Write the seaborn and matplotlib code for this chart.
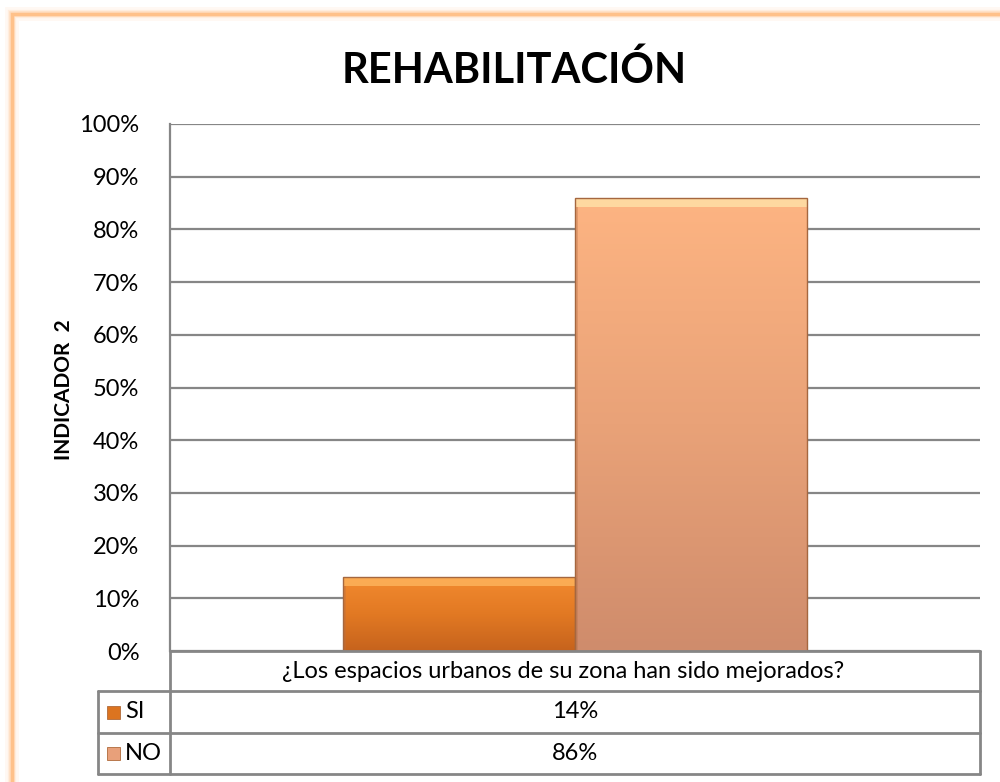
import matplotlib
matplotlib.use("Agg")
import matplotlib.pyplot as plt
from matplotlib.colors import LinearSegmentedColormap
from matplotlib.lines import Line2D
from matplotlib.patches import Rectangle
from matplotlib.ticker import PercentFormatter
import numpy as np
import pandas as pd
import seaborn as sns

# data
pregunta = "¿Los espacios urbanos de su zona han sido mejorados?"
respuestas = ["SI", "NO"]
valores = [0.14, 0.86]
titulo = "REHABILITACIÓN"
eje_y = "INDICADOR  2"

sns.set_style("white")
plt.rcParams['font.family'] = ['Lato', 'DejaVu Sans']
plt.rcParams['text.color'] = 'black'

W, H = 1000, 782
fig = plt.figure(figsize=(W / 100, H / 100), dpi=100)
fig.patch.set_facecolor("white")

def fx(x):
    return x / W

def fy(y):
    return 1 - y / H

ax = fig.add_axes([fx(170), fy(651), fx(980) - fx(170), fy(124) - fy(651)])

df = pd.DataFrame({"pregunta": [pregunta] * len(respuestas),
                   "respuesta": respuestas,
                   "valor": valores})

sns.barplot(data=df, x="pregunta", y="valor", hue="respuesta",
            palette=["#EE8429", "#F9AC7E"], width=0.572, ax=ax,
            legend=False, zorder=3)

# gradient fills on the bars, with a light bevel strip on top
grads = [["#C6631D", "#E27923", "#F28A2F"],
         ["#CF8C6C", "#E9A278", "#FDB482"]]
tops = ["#FDB25A", "#FFDFA6"]
px = 1 / 527  # one pixel in data units
for p, cols, tc in zip(ax.patches, grads, tops):
    cmap = LinearSegmentedColormap.from_list("g", cols)
    x0, y0 = p.get_x(), p.get_y()
    w, h = p.get_width(), p.get_height()
    g = np.linspace(0, 1, 200).reshape(-1, 1)
    im = ax.imshow(g, extent=[x0, x0 + w, y0, y0 + h], origin="lower",
                   aspect="auto", cmap=cmap, zorder=3.5, vmin=0, vmax=1)
    im.set_clip_path(p)
    ax.add_patch(Rectangle((x0, y0 + h - 9 * px), w, 9 * px, facecolor=tc,
                           edgecolor="none", alpha=0.85, zorder=3.6))
    ax.add_patch(Rectangle((x0, y0), w * 0.012, h - 9 * px, facecolor="#B87048",
                           edgecolor="none", alpha=0.35, zorder=3.6))
    p.set_edgecolor("#A5673F")
    p.set_linewidth(1.0)
    p.set_zorder(3.7)
    p.set_facecolor("none")

ax.set_xlim(-0.5, 0.5)
ax.set_ylim(0, 1)
ax.set_yticks(np.arange(0, 1.01, 0.1))
ax.yaxis.set_major_formatter(PercentFormatter(1.0, decimals=0))
ax.tick_params(axis="y", labelsize=17, pad=22, length=0, colors="black")
ax.set_xticks([])
ax.set_xlabel("")
ax.set_ylabel("")
ax.grid(axis="y", color="#868686", linewidth=1.6, zorder=0)
ax.set_axisbelow(True)
for s in ["top", "right", "bottom"]:
    ax.spines[s].set_visible(False)
ax.spines["left"].set_color("#868686")
ax.spines["left"].set_linewidth(1.6)
ax.spines["left"].set_bounds(0, 1)

fig.text(fx(514), fy(70), titulo, ha="center", va="center",
         fontsize=30, fontweight="bold")
fig.text(fx(64), fy(390), eje_y, ha="center", va="center",
         rotation=90, fontsize=15, fontweight="bold")

# data table below the axis
lc = "#868686"
def hline(y, x0, x1):
    fig.add_artist(Line2D([fx(x0), fx(x1)], [fy(y), fy(y)], color=lc,
                          linewidth=2, transform=fig.transFigure))

def vline(x, y0, y1):
    fig.add_artist(Line2D([fx(x), fx(x)], [fy(y0), fy(y1)], color=lc,
                          linewidth=2, transform=fig.transFigure))

hline(651, 170, 980)
hline(691, 98, 980)
hline(733, 98, 980)
hline(774, 98, 980)
vline(170, 651, 774)
vline(980, 651, 774)
vline(98, 691, 774)

fig.text(fx(563), fy(672), pregunta, ha="center", va="center", fontsize=17)
row_y = [712, 753]
key_cols = ["#DC7420", "#E8A07A"]
for r, v, y, kc in zip(respuestas, valores, row_y, key_cols):
    fig.text(fx(575), fy(y), f"{v:.0%}", ha="center", va="center", fontsize=17)
    fig.text(fx(125), fy(y), r, ha="left", va="center", fontsize=17)
    fig.add_artist(Rectangle((fx(107), fy(y + 7)), 13 / W, 13 / H,
                             facecolor=kc, edgecolor="#B06A3A", linewidth=0.6,
                             transform=fig.transFigure))

# orange frame with soft glow (right and bottom edges run off the picture)
for lw, a in [(10, 0.1), (6, 0.2), (4, 0.35), (2.5, 1.0)]:
    fig.add_artist(Rectangle((fx(12), -0.5), 2, fy(14) + 0.5,
                             facecolor="none", edgecolor="#FFC18A", linewidth=lw,
                             alpha=a, transform=fig.transFigure))

fig.savefig("out.png", dpi=100)
